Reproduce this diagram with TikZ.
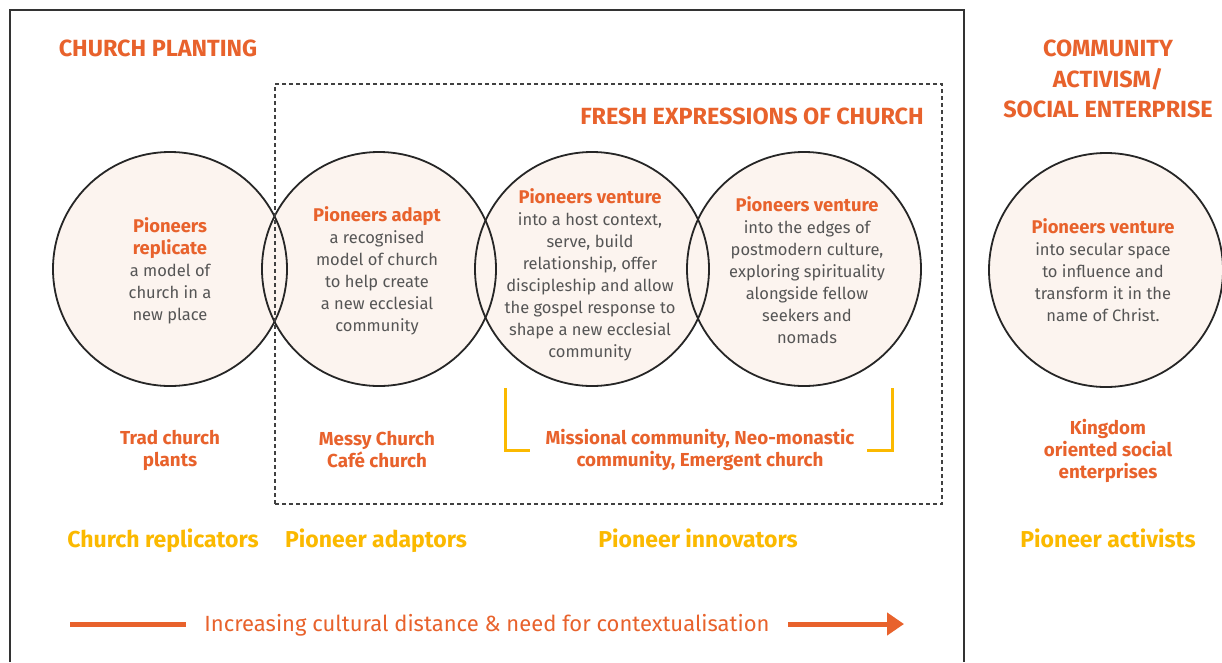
\documentclass[tikz,border=0pt]{standalone}
\usepackage{fontspec}
\setmainfont{Fira Sans}
\newcommand{\medfont}{\bfseries}
\newcommand{\lightfont}{\mdseries}
\usetikzlibrary{arrows.meta}
\definecolor{orng}{HTML}{E8622C}
\definecolor{txtgray}{HTML}{555555}
\definecolor{circfill}{HTML}{FCF4EF}
\definecolor{yell}{HTML}{FBB900}
\definecolor{framegray}{HTML}{333333}
\tikzset{
  circfill/.style={circle, minimum size=234pt, inner sep=0pt, fill=circfill, draw=none},
  circline/.style={draw=black!85, line width=1.8pt},
  heading/.style={text=orng, font=\medfont\fontsize{23.4}{30.5}\selectfont, align=center, inner sep=0pt},
  body/.style={text=txtgray, font=\fontsize{16.5}{22}\selectfont, align=center, inner sep=0pt},
  example/.style={text=orng, font=\medfont\fontsize{18.8}{22}\selectfont, align=center, inner sep=0pt},
  typelabel/.style={text=yell, font=\medfont\fontsize{23}{26}\selectfont, inner sep=0pt, anchor=base},
  bracket/.style={draw=yell, line width=3pt},
  bigarrow/.style={draw=orng, line width=5pt}
}
\newcommand{\hl}[1]{{\medfont\fontsize{18.4}{22}\selectfont\color{orng}#1}}
\begin{document}
\begin{tikzpicture}[x=1pt,y=-1pt]
\useasboundingbox (0,0) rectangle (1222,662);
\fill[white] (0,0) rectangle (1222,662);
% outer frame
\coordinate (fbl) at (10,662);
\coordinate (ftl) at (10,10);
\coordinate (ftr) at (964,10);
\coordinate (fbr) at (964,662);
\draw[framegray, line width=1.6pt] (fbl) -- (ftl) -- (ftr) -- (fbr);
% circle fills
\node[circfill] (c1) at (170,269) {};
\node[circfill] (c2) at (379,269) {};
\node[circfill] (c3) at (592,269) {};
\node[circfill] (c4) at (804,269) {};
\node[circfill] (c5) at (1106,270) {};
% circle outlines
\foreach \c in {c1,c2,c3,c4,c5} {\draw[circline] (\c.center) circle (117pt);}
% dashed frame
\node[draw=black!75, line width=1.5pt, dash pattern=on 4pt off 3pt, inner sep=0pt,
      minimum width=667pt, minimum height=420pt] (fresh) at (608.5,294) {};
% headings
\node[heading] (hplant) at (158,48) {CHURCH PLANTING};
\node[heading] (hcomm) at (1108,79) {COMMUNITY\\ACTIVISM/\\SOCIAL ENTERPRISE};
\node[heading] (hfresh) at (752,116) {FRESH EXPRESSIONS OF CHURCH};
% circle texts
\node[body] (t1) at (170,271) {\hl{Pioneers}\\\hl{replicate}\\a model of\\church in a\\new place};
\node[body] (t2) at (377,271) {\hl{Pioneers adapt}\\a recognised\\model of church\\to help create\\a new ecclesial\\community};
\node[body] (t3) at (590,275) {\hl{Pioneers venture}\\into a host context,\\serve, build\\relationship, offer\\discipleship and allow\\the gospel response to\\shape a new ecclesial\\community};
\node[body] (t4) at (807,270.5) {\hl{Pioneers venture}\\into the edges of\\postmodern culture,\\exploring spirituality\\alongside fellow\\seekers and\\nomads};
\node[body] (t5) at (1103,270.5) {\hl{Pioneers venture}\\into secular space\\to influence and\\transform it in the\\name of Christ.};
% examples
\node[example] (e1) at (170,450) {Trad church\\plants};
\node[example] (e2) at (377,450) {Messy Church\\Café church};
\node[example] (e3) at (700,450) {Missional community, Neo-monastic\\community, Emergent church};
\node[example] (e5) at (1108,451) {Kingdom\\oriented social\\enterprises};
% bracket
\coordinate (bl1) at (505,388);
\coordinate (bl2) at (505,450);
\coordinate (bl3) at (530,450);
\coordinate (br1) at (892,388);
\coordinate (br2) at (892,450);
\coordinate (br3) at (867,450);
\draw[bracket] (bl1) -- (bl2) -- (bl3);
\draw[bracket] (br1) -- (br2) -- (br3);
% type labels
\node[typelabel] (l1) at (163,547) {Church replicators};
\node[typelabel] (l2) at (376,547) {Pioneer adaptors};
\node[typelabel] (l3) at (698,547) {Pioneer innovators};
\node[typelabel] (l5) at (1108,547) {Pioneer activists};
% arrow
\node[text=orng, font=\lightfont\fontsize{22}{24}\selectfont, inner sep=0pt, anchor=base] (atext) at (487,631) {Increasing cultural distance \& need for contextualisation};
\coordinate (a1) at (70,624);
\coordinate (a2) at (186,624);
\coordinate (a3) at (788,624);
\coordinate (a4) at (904,624);
\draw[bigarrow] (a1) -- (a2);
\draw[bigarrow, -{Triangle[length=17pt, width=22pt]}] (a3) -- (a4);
\end{tikzpicture}
\end{document}
